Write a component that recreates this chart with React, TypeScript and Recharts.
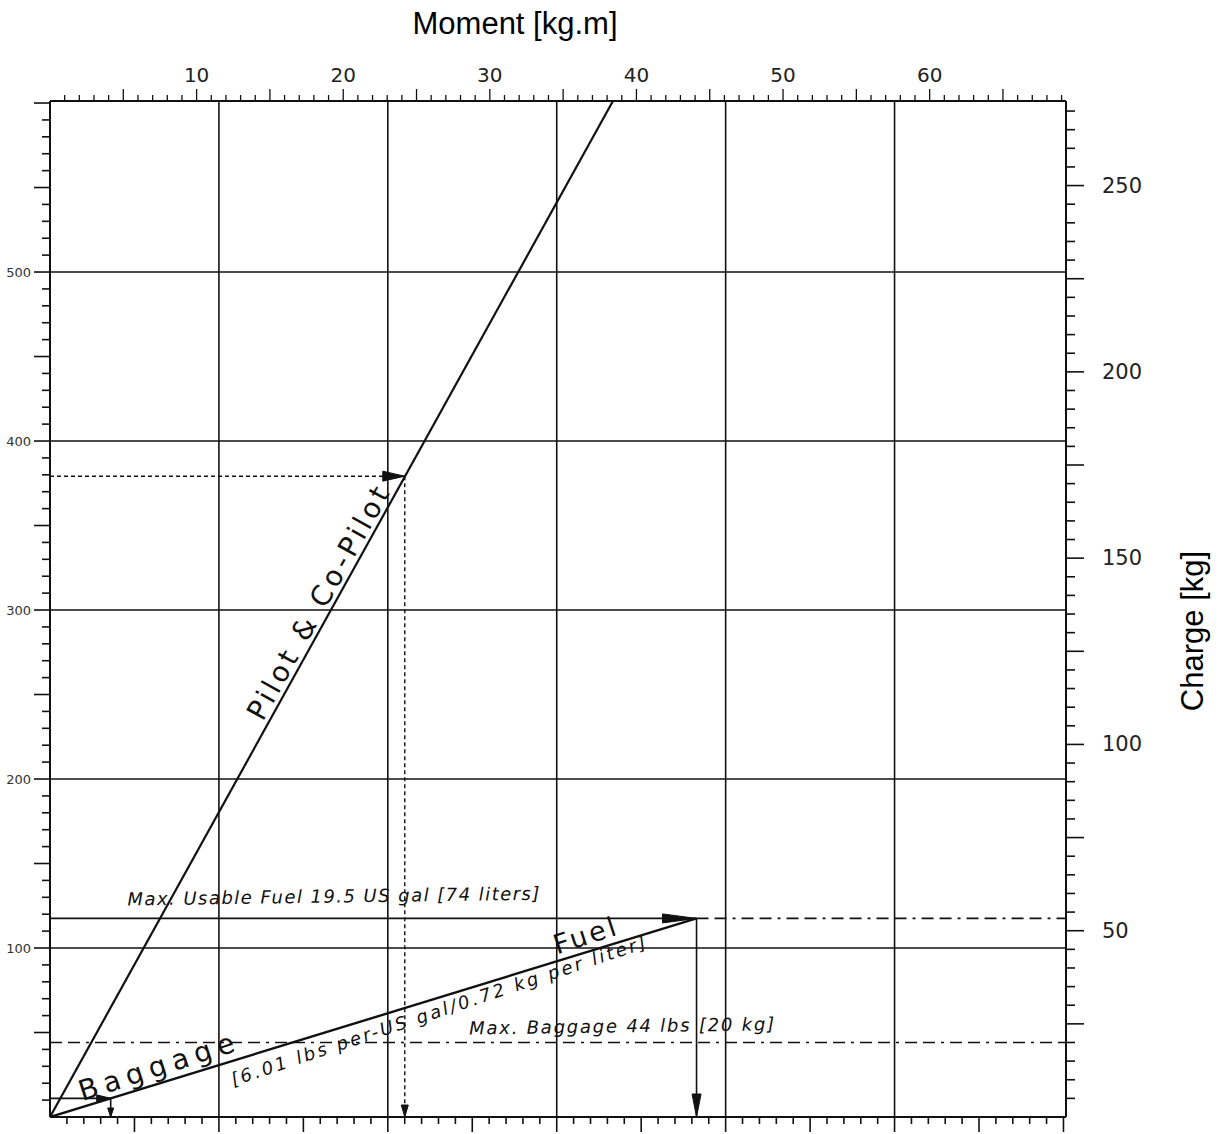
import React from "react";
import { LineChart, Line, XAxis, YAxis, ReferenceDot } from "recharts";

const range = (start: number, end: number, step: number) => {
  const out: number[] = [];
  for (let v = start; v <= end + 1e-9; v += step) out.push(Math.round(v * 1000) / 1000);
  return out;
};

// ---- axis ticks / labels ----
const momentLabels = [10, 20, 30, 40, 50, 60]; // kg.m (top)
const chargeLabels = [50, 100, 150, 200, 250]; // kg (right)
const lbsLabels = [100, 200, 300, 400, 500]; // lbs (left, cut off in scan)
const momentTicks = range(1, 69, 1);
const chargeTicks = range(5, 270, 5);
const lbsTicks = range(10, 600, 10);
const lbInTicks = range(100, 6000, 100);

// ---- grid (original lbs / lb-in grid) ----
const LBIN_MAX = 6015;
const LBS_MAX = 601.2;
const gridLbIn = [1000, 2000, 3000, 4000, 5000];
const gridLbs = [100, 200, 300, 400, 500];

// ---- series: x = moment [kg.m], y = charge [kg] ----
const pilotLine = [{ x: 0, y: 0 }, { x: 38.4, y: 272.7 }];
const fuelLine = [{ x: 0, y: 0 }, { x: 44.1, y: 53.3 }];
const maxFuelArrow = [{ x: 0, y: 53.3 }, { x: 44.1, y: 53.3 }];
const maxFuelExt = [{ x: 44.1, y: 53.3 }, { x: 69.3, y: 53.3 }];
const fuelDrop = [{ x: 44.1, y: 53.3 }, { x: 44.1, y: 0 }];
const maxBaggageLine = [{ x: 0, y: 20 }, { x: 69.3, y: 20 }];
const baggageArrow = [{ x: 0, y: 5 }, { x: 4.14, y: 5 }];
const baggageDrop = [{ x: 4.14, y: 5 }, { x: 4.14, y: 0 }];
const pilotExampleH = [{ x: 0, y: 172 }, { x: 24.2, y: 172 }];
const pilotExampleV = [{ x: 24.2, y: 172 }, { x: 24.2, y: 0 }];

// ---- annotation texts ----
const notes = [
  { text: "Pilot & Co-Pilot", x: 19.15, y: 136, angle: -60.9, dy: -5, anchor: "middle", size: 28, italic: false, length: 262 },
  { text: "Fuel", x: 36.8, y: 44.5, angle: -18, dy: -7, anchor: "middle", size: 27, italic: false, length: 64 },
  { text: "Baggage", x: 7.6, y: 9.2, angle: -18, dy: -7, anchor: "middle", size: 28, italic: false, length: 162 },
  { text: "[6.01 lbs per-US gal/0.72 kg per liter]", x: 26.2, y: 31.7, angle: -18.5, dy: 19, anchor: "middle", size: 18, italic: true, length: 436 },
  { text: "Max. Usable Fuel 19.5 US gal [74 liters]", x: 5.3, y: 53.3, angle: -0.8, dy: -13, anchor: "start", size: 18, italic: true, length: 412 },
  { text: "Max. Baggage 44 lbs [20 kg]", x: 28.6, y: 20, angle: -0.8, dy: -8, anchor: "start", size: 18, italic: true, length: 305 },
];

const INK = "#111";
const NUM_FONT = "DejaVu Sans";

const TopTick = (p: any) => {
  const v = p.payload.value;
  const len = v % 5 === 0 ? 12 : 6;
  return (
    <g>
      <line x1={p.x} y1={p.y} x2={p.x} y2={p.y - len} stroke={INK} strokeWidth={1.3} />
      {momentLabels.includes(v) && (
        <text x={p.x} y={p.y - 19} textAnchor="middle" fontFamily={NUM_FONT} fontSize={20} fill="#222">
          {v}
        </text>
      )}
    </g>
  );
};

const RightTick = (p: any) => {
  const v = p.payload.value;
  const len = v % 25 === 0 ? 18 : 9;
  return (
    <g>
      <line x1={p.x} y1={p.y} x2={p.x + len} y2={p.y} stroke={INK} strokeWidth={1.6} />
      {chargeLabels.includes(v) && (
        <text x={p.x + 36} y={p.y + 7} textAnchor="start" fontFamily={NUM_FONT} fontSize={21} fill="#222">
          {v}
        </text>
      )}
    </g>
  );
};

const LeftTick = (p: any) => {
  const v = p.payload.value;
  const len = v % 50 === 0 ? 16 : 8;
  return (
    <g>
      <line x1={p.x} y1={p.y} x2={p.x - len} y2={p.y} stroke={INK} strokeWidth={1.6} />
      {lbsLabels.includes(v) && (
        <text x={p.x - 19} y={p.y + 5} textAnchor="end" fontFamily={NUM_FONT} fontSize={13} fill="#333">
          {v}
        </text>
      )}
    </g>
  );
};

const BottomTick = (p: any) => {
  const v = p.payload.value;
  const len = v % 500 === 0 ? 15 : 7;
  return <line x1={p.x} y1={p.y} x2={p.x} y2={p.y + len} stroke={INK} strokeWidth={1.6} />;
};

const arrowDot = (dir: "right" | "down", len: number, hw: number) => (p: any) => {
  const { cx, cy, index } = p;
  if (index !== 1 || cx == null || cy == null) return <g key={`e${index}`} />;
  const pts =
    dir === "right"
      ? `${cx},${cy} ${cx - len},${cy - hw} ${cx - len},${cy + hw}`
      : `${cx},${cy} ${cx - hw},${cy - len} ${cx + hw},${cy - len}`;
  return <polygon key={`a${index}`} points={pts} fill={INK} stroke={INK} strokeWidth={1} />;
};

const noteShape = (n: (typeof notes)[number]) => (p: any) => (
  <text
    transform={`translate(${p.cx},${p.cy}) rotate(${n.angle})`}
    x={0}
    y={n.dy}
    textAnchor={n.anchor as any}
    fontFamily="DejaVu Sans"
    fontSize={n.size}
    fontStyle={n.italic ? "italic" : "normal"}
    textLength={n.length}
    lengthAdjust="spacing"
    fill={INK}
  >
    {n.text}
  </text>
);

const TopTitle = (p: any) => {
  const vb = p.viewBox;
  return (
    <text x={vb.x + 465} y={34} textAnchor="middle" fontFamily="Liberation Sans, Arial, sans-serif" fontSize={31} fill="#000">
      Moment [kg.m]
    </text>
  );
};

const RightTitle = (p: any) => {
  const vb = p.viewBox;
  const x = vb.x + 137;
  const y = 631;
  return (
    <text
      transform={`translate(${x},${y}) rotate(-90)`}
      x={0}
      y={0}
      textAnchor="middle"
      fontFamily="Liberation Sans, Arial, sans-serif"
      fontSize={31}
      fill="#000"
    >
      Charge [kg]
    </text>
  );
};

const lineCommon = {
  xAxisId: "m",
  yAxisId: "kg",
  dataKey: "y",
  type: "linear" as const,
  isAnimationActive: false,
  activeDot: false as const,
  legendType: "none" as const,
};

const gridCommon = {
  xAxisId: "lbin",
  yAxisId: "lbs",
  dataKey: "y",
  type: "linear" as const,
  isAnimationActive: false,
  activeDot: false as const,
  legendType: "none" as const,
  dot: false as const,
  stroke: INK,
  strokeWidth: 1.6,
};

export default function App() {
  return (
    <div style={{ position: "absolute", left: 0, top: 0, width: 1227, height: 1134, background: "#fff" }}>
      <LineChart width={1227} height={1134} margin={{ top: 0, right: 0, bottom: 0, left: 0 }}>
        <XAxis
          xAxisId="m"
          orientation="top"
          type="number"
          dataKey="x"
          domain={[0, 69.3]}
          allowDataOverflow
          ticks={momentTicks}
          interval={0}
          height={101}
          tick={TopTick}
          tickLine={false}
          tickSize={0}
          tickMargin={0}
          axisLine={{ stroke: INK, strokeWidth: 2 }}
          label={TopTitle}
        />
        <XAxis
          xAxisId="lbin"
          orientation="bottom"
          type="number"
          dataKey="x"
          domain={[0, LBIN_MAX]}
          allowDataOverflow
          ticks={lbInTicks}
          interval={0}
          height={17}
          tick={BottomTick}
          tickLine={false}
          tickSize={0}
          tickMargin={0}
          axisLine={{ stroke: INK, strokeWidth: 2 }}
        />
        <YAxis
          yAxisId="lbs"
          orientation="left"
          type="number"
          domain={[0, LBS_MAX]}
          allowDataOverflow
          ticks={lbsTicks}
          interval={0}
          width={50}
          tick={LeftTick}
          tickLine={false}
          tickSize={0}
          tickMargin={0}
          axisLine={{ stroke: INK, strokeWidth: 2 }}
        />
        <YAxis
          yAxisId="kg"
          orientation="right"
          type="number"
          domain={[0, 272.7]}
          allowDataOverflow
          ticks={chargeTicks}
          interval={0}
          width={161}
          tick={RightTick}
          tickLine={false}
          tickSize={0}
          tickMargin={0}
          axisLine={{ stroke: INK, strokeWidth: 2 }}
          label={RightTitle}
        />

        {gridLbIn.map((v) => (
          <Line key={`gx${v}`} {...gridCommon} data={[{ x: v, y: 0 }, { x: v, y: LBS_MAX }]} />
        ))}
        {gridLbs.map((v) => (
          <Line key={`gy${v}`} {...gridCommon} data={[{ x: 0, y: v }, { x: LBIN_MAX, y: v }]} />
        ))}

        <Line {...lineCommon} data={pilotLine} stroke={INK} strokeWidth={2.2} dot={false} />
        <Line {...lineCommon} data={fuelLine} stroke={INK} strokeWidth={2.4} dot={false} />
        <Line {...lineCommon} data={maxFuelArrow} stroke={INK} strokeWidth={1.6} dot={arrowDot("right", 34, 4.5)} />
        <Line {...lineCommon} data={maxFuelExt} stroke={INK} strokeWidth={1.6} strokeDasharray="12 6 12 6 3 6" dot={false} />
        <Line {...lineCommon} data={fuelDrop} stroke={INK} strokeWidth={1.6} dot={arrowDot("down", 23, 4.5)} />
        <Line {...lineCommon} data={maxBaggageLine} stroke={INK} strokeWidth={1.6} strokeDasharray="12 6 12 6 3 6" dot={false} />
        <Line {...lineCommon} data={baggageArrow} stroke={INK} strokeWidth={1.6} dot={arrowDot("right", 14, 3.5)} />
        <Line {...lineCommon} data={baggageDrop} stroke={INK} strokeWidth={1.6} dot={arrowDot("down", 9, 3)} />
        <Line {...lineCommon} data={pilotExampleH} stroke={INK} strokeWidth={1.4} strokeDasharray="4 3" dot={arrowDot("right", 22, 5)} />
        <Line {...lineCommon} data={pilotExampleV} stroke={INK} strokeWidth={1.4} strokeDasharray="4 3" dot={arrowDot("down", 12, 3.5)} />

        {notes.map((n, i) => (
          <ReferenceDot
            key={`n${i}`}
            xAxisId="m"
            yAxisId="kg"
            x={n.x}
            y={n.y}
            r={0}
            ifOverflow="visible"
            shape={noteShape(n)}
          />
        ))}
      </LineChart>
    </div>
  );
}
